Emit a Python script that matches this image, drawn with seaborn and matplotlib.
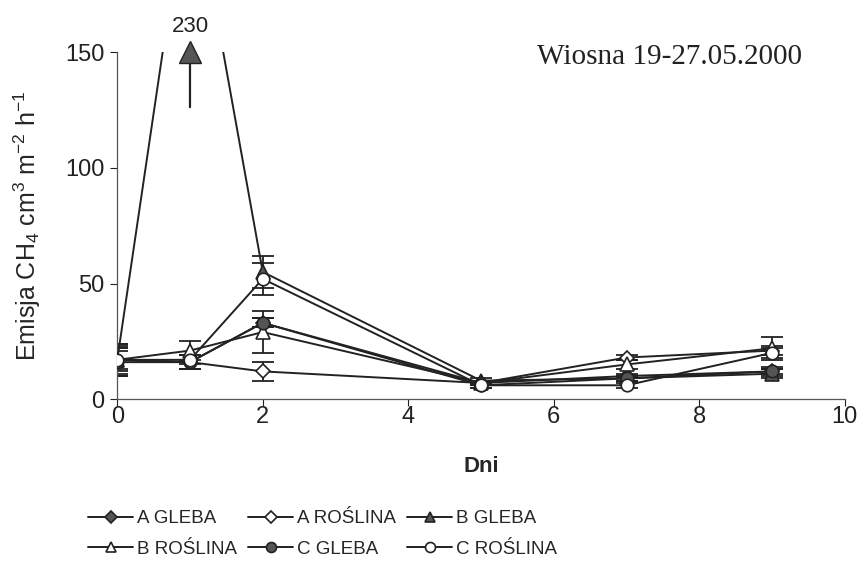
import numpy as np
import pandas as pd
import seaborn as sns
import matplotlib
matplotlib.use('Agg')
import matplotlib.pyplot as plt

sns.set_style('ticks')
plt.rcParams['font.family'] = ['Liberation Sans', 'DejaVu Sans']
plt.rcParams['axes.unicode_minus'] = False
plt.rcParams['mathtext.fontset'] = 'custom'
plt.rcParams['mathtext.rm'] = 'Liberation Sans'
plt.rcParams['mathtext.it'] = 'Liberation Sans'

days = [0, 1, 2, 5, 7, 9]

# values (cm3 m-2 h-1)
a_gleba = [17, 16, 33, 7, 10, 12]
a_roslina = [17, 16, 12, 7, 18, 21]
b_gleba = [17, 230, 55, 8, 9, 11]
b_roslina = [17, 21, 29, 7, 15, 22]
c_gleba = [16, 16, 33, 6, 9, 12]
c_roslina = [17, 17, 52, 6, 6, 20]

a_gleba_err = [6, 3, 2, 1, 1, 2]
a_roslina_err = [4, 3, 4, 1, 1, 2]
b_gleba_err = [7, 3, 7, 1, 1, 2]
b_roslina_err = [5, 4, 9, 1, 2, 5]
c_gleba_err = [6, 3, 2, 1, 1, 1]
c_roslina_err = [7, 2, 7, 1, 1, 2]

series = [
    ('A GLEBA', a_gleba, a_gleba_err, 'D', '#555555'),
    ('A ROŚLINA', a_roslina, a_roslina_err, 'D', 'white'),
    ('B GLEBA', b_gleba, b_gleba_err, '^', '#555555'),
    ('B ROŚLINA', b_roslina, b_roslina_err, '^', 'white'),
    ('C GLEBA', c_gleba, c_gleba_err, 'o', '#555555'),
    ('C ROŚLINA', c_roslina, c_roslina_err, 'o', 'white'),
]
sizes = {'D': 7.5, '^': 9.5, 'o': 9}

fig = plt.figure(figsize=(8.62, 5.67), dpi=100)
ax = fig.add_axes([0.136, 0.296, 0.844, 0.612])

for name, vals, err, mk, fc in series:
    df = pd.DataFrame({'dzien': days, 'emisja': vals})
    ok = (df['emisja'] < 150).to_numpy()
    ax.errorbar(df['dzien'][ok], df['emisja'][ok], yerr=np.array(err)[ok],
                fmt='none', ecolor='#222222', elinewidth=1.3, capsize=8, capthick=1.3, zorder=2)
    sns.lineplot(data=df, x='dzien', y='emisja', ax=ax, color='#222222', linewidth=1.4,
                 marker=mk, markersize=sizes[mk], markerfacecolor=fc,
                 markeredgecolor='#222222', markeredgewidth=1.2, label=name, zorder=3)

# off-scale peak of B GLEBA
ax.plot([1], [150], marker='^', markersize=16, color='#555555', markeredgecolor='#222222',
        clip_on=False, zorder=5)
ax.annotate('', xy=(1, 147), xytext=(1, 125),
            arrowprops=dict(arrowstyle='-', color='#222222', lw=1.6))
ax.text(1, 161, '230', ha='center', va='center', fontsize=16, color='#222222')

ax.set_xlim(0, 10)
ax.set_ylim(0, 150)
ax.set_xticks([0, 2, 4, 6, 8, 10])
ax.set_yticks([0, 50, 100, 150])
ax.tick_params(labelsize=17, colors='#222222', length=5, width=0.8, pad=4)
ax.tick_params(axis='x', pad=0)
for s in ['top', 'right']:
    ax.spines[s].set_visible(False)
for s in ['left', 'bottom']:
    ax.spines[s].set_color('#555555')
    ax.spines[s].set_linewidth(0.9)

ax.set_xlabel('Dni', fontsize=16, fontweight='bold', labelpad=20)
ax.set_ylabel('Emisja CH$_4$ cm$^3$ m$^{-2}$ h$^{-1}$', fontsize=18, labelpad=16)
ax.text(0.941, 0.986, 'Wiosna 19-27.05.2000', transform=ax.transAxes, ha='right', va='center',
        fontsize=21, family='Liberation Serif', color='#222222')

handles, labels = ax.get_legend_handles_labels()
ax.get_legend().remove()
order = [0, 3, 1, 4, 2, 5]
fig.legend([handles[i] for i in order], [labels[i] for i in order], ncol=3,
           loc='upper left', bbox_to_anchor=(0.083, 0.13), frameon=False,
           fontsize=13.5, handlelength=2.4, handletextpad=0.2, columnspacing=0.6,
           labelspacing=0.72, markerscale=0.8)

fig.savefig('out.png', dpi=100)
